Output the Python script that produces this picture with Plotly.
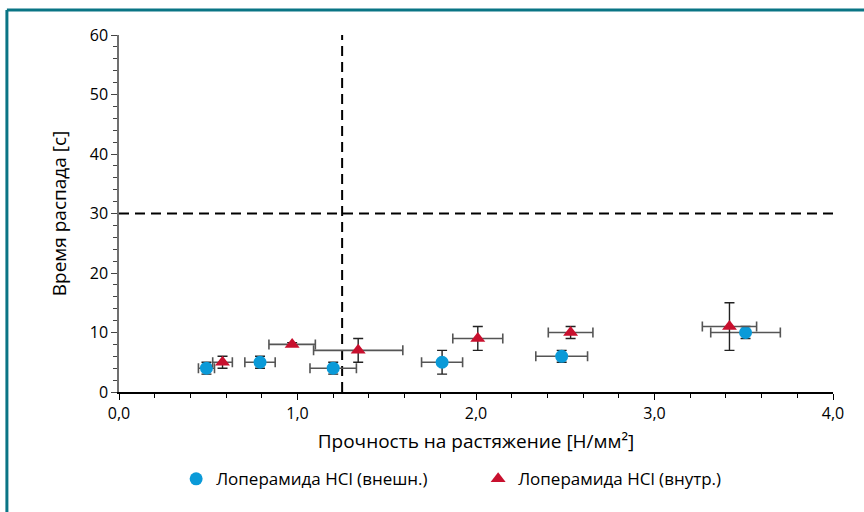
import plotly.graph_objects as go

# Data
ext_x = [0.49, 0.79, 1.20, 1.81, 2.48, 3.51]
ext_x_err = [0.045, 0.085, 0.13, 0.115, 0.145, 0.195]
ext_y = [4, 5, 4, 5, 6, 10]
ext_y_err = [1, 1, 1, 2, 1, 1]

int_x = [0.58, 0.97, 1.34, 2.01, 2.53, 3.42]
int_x_err = [0.055, 0.13, 0.25, 0.14, 0.125, 0.152]
int_y = [5, 8, 7, 9, 10, 11]
int_y_err = [1, 0.3, 2, 2, 1, 4]

limit_x = 1.25
limit_y = 30

x_title = "Прочность на растяжение [Н/мм²]"
y_title = "Время распада [c]"
ext_name = "Лоперамида HCl (внешн.)"
int_name = "Лоперамида HCl (внутр.)"

FONT = "Open Sans"

fig = go.Figure()

# reference dashed lines
fig.add_trace(go.Scatter(x=[0, 4], y=[limit_y, limit_y], mode="lines",
                         line=dict(color="black", width=2, dash="10px,6px"),
                         showlegend=False, hoverinfo="skip"))
fig.add_trace(go.Scatter(x=[limit_x, limit_x], y=[0, 60], mode="lines",
                         line=dict(color="black", width=2, dash="10px,6px"),
                         showlegend=False, hoverinfo="skip"))

fig.add_trace(go.Scatter(
    x=ext_x, y=ext_y, mode="markers", name=ext_name,
    marker=dict(symbol="circle", size=13, color="#0a9ad8"),
    error_x=dict(type="data", array=ext_x_err, color="#555555", thickness=1.6, width=5),
    error_y=dict(type="data", array=ext_y_err, color="#222222", thickness=1.4, width=5),
))
fig.add_trace(go.Scatter(
    x=int_x, y=int_y, mode="markers", name=int_name,
    marker=dict(symbol="triangle-up", size=13, color="#c8102e"),
    error_x=dict(type="data", array=int_x_err, color="#555555", thickness=1.6, width=5),
    error_y=dict(type="data", array=int_y_err, color="#222222", thickness=1.4, width=5),
))

fig.update_layout(
    width=864, height=512,
    margin=dict(l=119, r=31, t=35, b=120, autoexpand=False),
    paper_bgcolor="white", plot_bgcolor="white",
    separators=", ",
    font=dict(family=FONT, size=16, color="black"),
    showlegend=True,
    legend=dict(orientation="h", x=0.503, xanchor="center", y=-0.194, yanchor="top",
                font=dict(family=FONT, size=17), itemwidth=30, tracegroupgap=0,
                entrywidthmode="pixels", entrywidth=257),
    xaxis=dict(range=[0, 4], tickvals=[0, 1, 2, 3, 4], tickformat=".1f",
               showgrid=False, zeroline=False, showline=True, linecolor="black", linewidth=1.5,
               ticks="outside", ticklen=6, tickcolor="black", tickwidth=1.2,
               minor=dict(dtick=0.2, ticks="outside", ticklen=4, tickcolor="black", tickwidth=1),
               tickfont=dict(family=FONT, size=16),
               title=dict(text=x_title, font=dict(family=FONT, size=19), standoff=12)),
    yaxis=dict(range=[0, 60], dtick=10,
               showgrid=False, zeroline=False, showline=True, linecolor="#707070", linewidth=1.5,
               ticks="outside", ticklen=6, tickcolor="#444444", tickwidth=1.2,
               minor=dict(dtick=2, ticks="outside", ticklen=4, tickcolor="#444444", tickwidth=1),
               tickfont=dict(family=FONT, size=16),
               title=dict(text=y_title, font=dict(family=FONT, size=19), standoff=18)),
    shapes=[
        dict(type="line", xref="paper", yref="paper", x0=-0.157, x1=1.1, y0=1.07, y1=1.07,
             line=dict(color="#0a7585", width=3)),
        dict(type="line", xref="paper", yref="paper", x0=-0.157, x1=-0.157, y0=1.07, y1=-0.4,
             line=dict(color="#0a7585", width=3)),
    ],
)

fig.write_html("out.html", config={"displayModeBar": False},
               post_script="document.body.style.margin='0';")
